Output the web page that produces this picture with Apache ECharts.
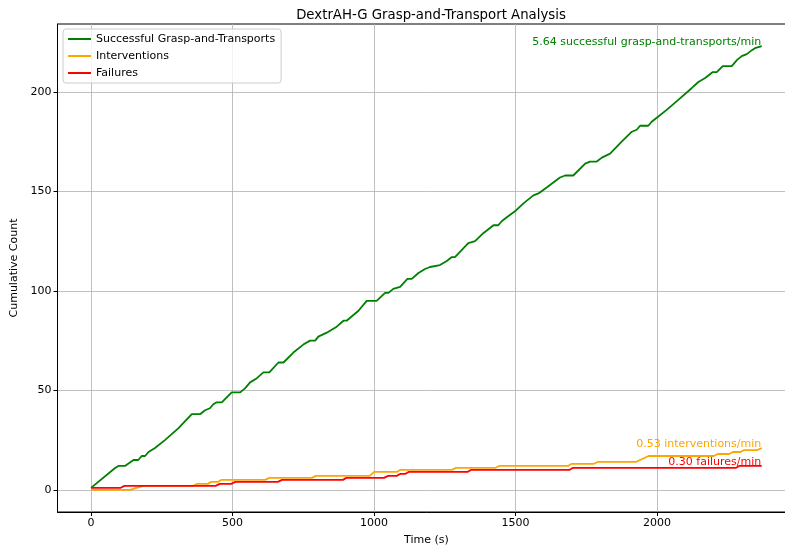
<!DOCTYPE html>
<html><head><meta charset="utf-8">
<script src="https://cdn.jsdelivr.net/npm/echarts@6/dist/echarts.min.js"></script>
<style>html,body{margin:0;padding:0;background:#fff;overflow:hidden}#c{width:810px;height:548px}</style>
</head><body><div id="c"></div>
<script>
const seriesNames = ['Successful Grasp-and-Transports', 'Interventions', 'Failures'];
const rateLabels = ['5.64 successful grasp-and-transports/min', '0.53 interventions/min', '0.30 failures/min'];

const successTimes = [0,85,97,120,150,167,179,191,203,226,261,309,356,385,403,420,432,444,462,497,527,544,562,585,609,630,662,680,715,750,774,792,803,833,868,892,903,945,974,1009,1039,1051,1068,1092,1118,1133,1157,1180,1198,1233,1257,1275,1286,1333,1357,1386,1422,1439,1451,1469,1498,1528,1563,1581,1610,1657,1675,1704,1746,1763,1787,1805,1834,1875,1911,1928,1940,1969,1981,1999,2034,2075,2123,2146,2170,2197,2211,2232,2264,2282,2299,2317,2335,2346,2370];
const successCounts = [1,11,12,12,15,15,17,17,19,21,25,31,38,38,40,41,43,44,44,49,49,51,54,56,59,59,64,64,69,73,75,75,77,79,82,85,85,90,95,95,99,99,101,102,106,106,109,111,112,113,115,117,117,124,125,129,133,133,135,137,140,144,148,149,152,157,158,158,164,165,165,167,169,175,180,181,183,183,185,187,191,196,202,205,207,210,210,213,213,216,218,219,221,222,223];

const interventionTimes = [0,138,160,185,362,375,412,425,450,460,615,630,780,795,985,1000,1080,1092,1275,1290,1428,1442,1685,1697,1775,1790,1925,1940,1955,1970,2200,2215,2255,2268,2295,2308,2355,2370];
const interventionCounts = [0,0,1,2,2,3,3,4,4,5,5,6,6,7,7,9,9,10,10,11,11,12,12,13,13,14,14,15,16,17,17,18,18,19,19,20,20,21];

const failureTimes = [0,105,118,440,455,495,510,660,675,890,902,1035,1050,1080,1092,1110,1122,1330,1342,1690,1702,2278,2290,2370];
const failureCounts = [1,1,2,2,3,3,4,4,5,5,6,6,7,7,8,8,9,9,10,10,11,11,12,12];

const xTicks = [0, 500, 1000, 1500, 2000];
const yTicks = [0, 50, 100, 150, 200];
const colors = ['#008000', '#FFA500', '#FF0000'];

const FONT = 'DejaVu Sans';
const chart = echarts.init(document.getElementById('c'), null, {renderer: 'canvas'});

function pairs(ts, vs) { return ts.map((t, i) => [t, vs[i]]); }
const allData = [pairs(successTimes, successCounts), pairs(interventionTimes, interventionCounts), pairs(failureTimes, failureCounts)];

const series = allData.map((d, i) => ({
  name: seriesNames[i],
  type: 'line',
  data: d,
  symbol: 'none',
  showSymbol: false,
  color: colors[i],
  lineStyle: {color: colors[i], width: 1.8},
  animation: false,
  markPoint: {
    symbol: 'circle', symbolSize: 1,
    itemStyle: {color: 'rgba(0,0,0,0)'},
    data: [{coord: d[d.length - 1]}],
    label: {
      show: true, position: [0, 0], align: 'right', verticalAlign: 'middle',
      offset: [0, -3.5],
      formatter: rateLabels[i], color: colors[i], fontSize: 11, fontFamily: FONT
    }
  }
}));

const axisCommon = {
  type: 'value',
  axisLine: {show: true, onZero: false, lineStyle: {color: '#000', width: 1}},
  axisTick: {show: true, inside: false, length: 4, lineStyle: {color: '#000', width: 1}},
  axisLabel: {color: '#000', fontSize: 11, fontFamily: FONT, formatter: v => String(v)},
  splitLine: {show: true, lineStyle: {color: '#b0b0b0', width: 0.8}},
  nameLocation: 'middle',
  nameTextStyle: {color: '#000', fontSize: 11, fontFamily: FONT}
};

chart.setOption({
  backgroundColor: '#fff',
  animation: false,
  title: {
    text: 'DextrAH-G Grasp-and-Transport Analysis',
    left: 426, top: 4, textAlign: 'center',
    textStyle: {fontFamily: FONT, fontSize: 13.3, fontWeight: 'normal', color: '#000'}
  },
  grid: {left: 57.5, top: 24, width: 737.8, height: 488, show: true, borderColor: '#000', borderWidth: 1, backgroundColor: 'transparent', outerBoundsMode: 'none', containLabel: false},
  legend: {
    orient: 'vertical', left: 63, top: 29,
    icon: 'rect', itemWidth: 23, itemHeight: 2, itemGap: 5,
    padding: [4, 6, 4, 5],
    backgroundColor: 'rgba(255,255,255,0.8)', borderColor: '#cccccc', borderWidth: 1, borderRadius: 3,
    textStyle: {fontFamily: FONT, fontSize: 11, color: '#000', lineHeight: 12},
    data: seriesNames
  },
  xAxis: Object.assign({}, axisCommon, {
    min: -118.5, max: 2488.5,
    name: 'Time (s)', nameGap: 23,
    axisTick: Object.assign({}, axisCommon.axisTick, {customValues: xTicks}),
    axisLabel: Object.assign({}, axisCommon.axisLabel, {customValues: xTicks, margin: 6})
  }),
  yAxis: Object.assign({}, axisCommon, {
    min: -11.15, max: 234.15,
    name: 'Cumulative Count', nameGap: 35,
    axisTick: Object.assign({}, axisCommon.axisTick, {customValues: yTicks}),
    axisLabel: Object.assign({}, axisCommon.axisLabel, {customValues: yTicks, margin: 6})
  }),
  series: series
});
</script></body></html>
